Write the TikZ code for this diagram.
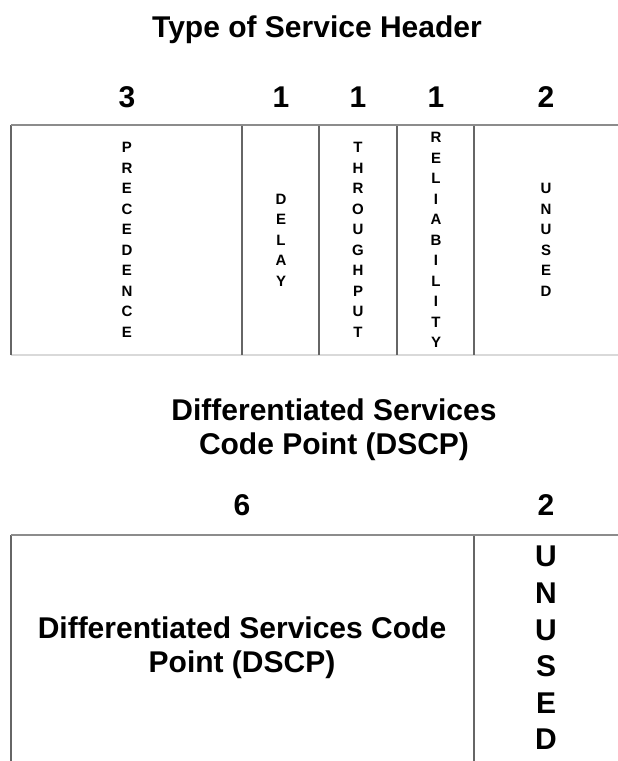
\documentclass[tikz,border=0pt]{standalone}
\usepackage{fontspec}
\setmainfont{Liberation Sans}
\begin{document}
\begin{tikzpicture}[x=1pt,y=-1pt,
  title/.style={font=\bfseries\fontsize{30}{34}\selectfont, align=center, inner sep=0pt},
  num/.style={font=\bfseries\fontsize{30}{34}\selectfont, inner sep=0pt},
  vsmall/.style={font=\bfseries\fontsize{15}{20.5}\selectfont, align=center, inner sep=0pt},
  vbig/.style={font=\bfseries\fontsize{30}{36.6}\selectfont, align=center, inner sep=0pt},
  toprule/.style={draw=black!45, line width=1.6pt},
  botrule/.style={draw=black!15, line width=1.4pt},
  colrule/.style={draw=black!60, line width=1.5pt}]
\useasboundingbox (0,0) rectangle (618,761);
\fill[white] (0,0) rectangle (618,761);

% ---------- Type of Service header ----------
\node[title] (tostitle) at (317,30) {Type of Service Header};
\node[num] (n1) at (127,97) {3};
\node[num] (n2) at (281,97) {1};
\node[num] (n3) at (358,97) {1};
\node[num] (n4) at (436,97) {1};
\node[num] (n5) at (546,97) {2};

\coordinate (tl) at (11,125);
\coordinate (tr) at (618,125);
\coordinate (bl) at (11,355);
\coordinate (br) at (618,355);
\draw[botrule] (bl) -- (br);
\draw[colrule] (11,125) -- (11,355);
\draw[colrule] (242,125) -- (242,355);
\draw[colrule] (319,125) -- (319,355);
\draw[colrule] (397,125) -- (397,355);
\draw[colrule] (474,125) -- (474,355);
\draw[toprule] (tl) -- (tr);

\node[vsmall] (prec) at (127,240) {P\\R\\E\\C\\E\\D\\E\\N\\C\\E};
\node[vsmall] (delay) at (281,240) {D\\E\\L\\A\\Y};
\node[vsmall] (thru) at (358,240) {T\\H\\R\\O\\U\\G\\H\\P\\U\\T};
\node[vsmall] (rel) at (436,240) {R\\E\\L\\I\\A\\B\\I\\L\\I\\T\\Y};
\node[vsmall] (unused1) at (546,240) {U\\N\\U\\S\\E\\D};

% ---------- DSCP ----------
\node[title] (dstitle) at (334,430) {Differentiated Services\\Code Point (DSCP)};
\node[num] (m1) at (242,505) {6};
\node[num] (m2) at (546,505) {2};

\coordinate (tl2) at (11,535);
\coordinate (tr2) at (618,535);
\draw[colrule] (11,535) -- (11,761);
\draw[colrule] (474,535) -- (474,761);
\draw[toprule] (tl2) -- (tr2);

\node[title] (dscp) at (242,648) {Differentiated Services Code\\Point (DSCP)};
\node[vbig] (unused2) at (546,648) {U\\N\\U\\S\\E\\D};
\end{tikzpicture}
\end{document}
